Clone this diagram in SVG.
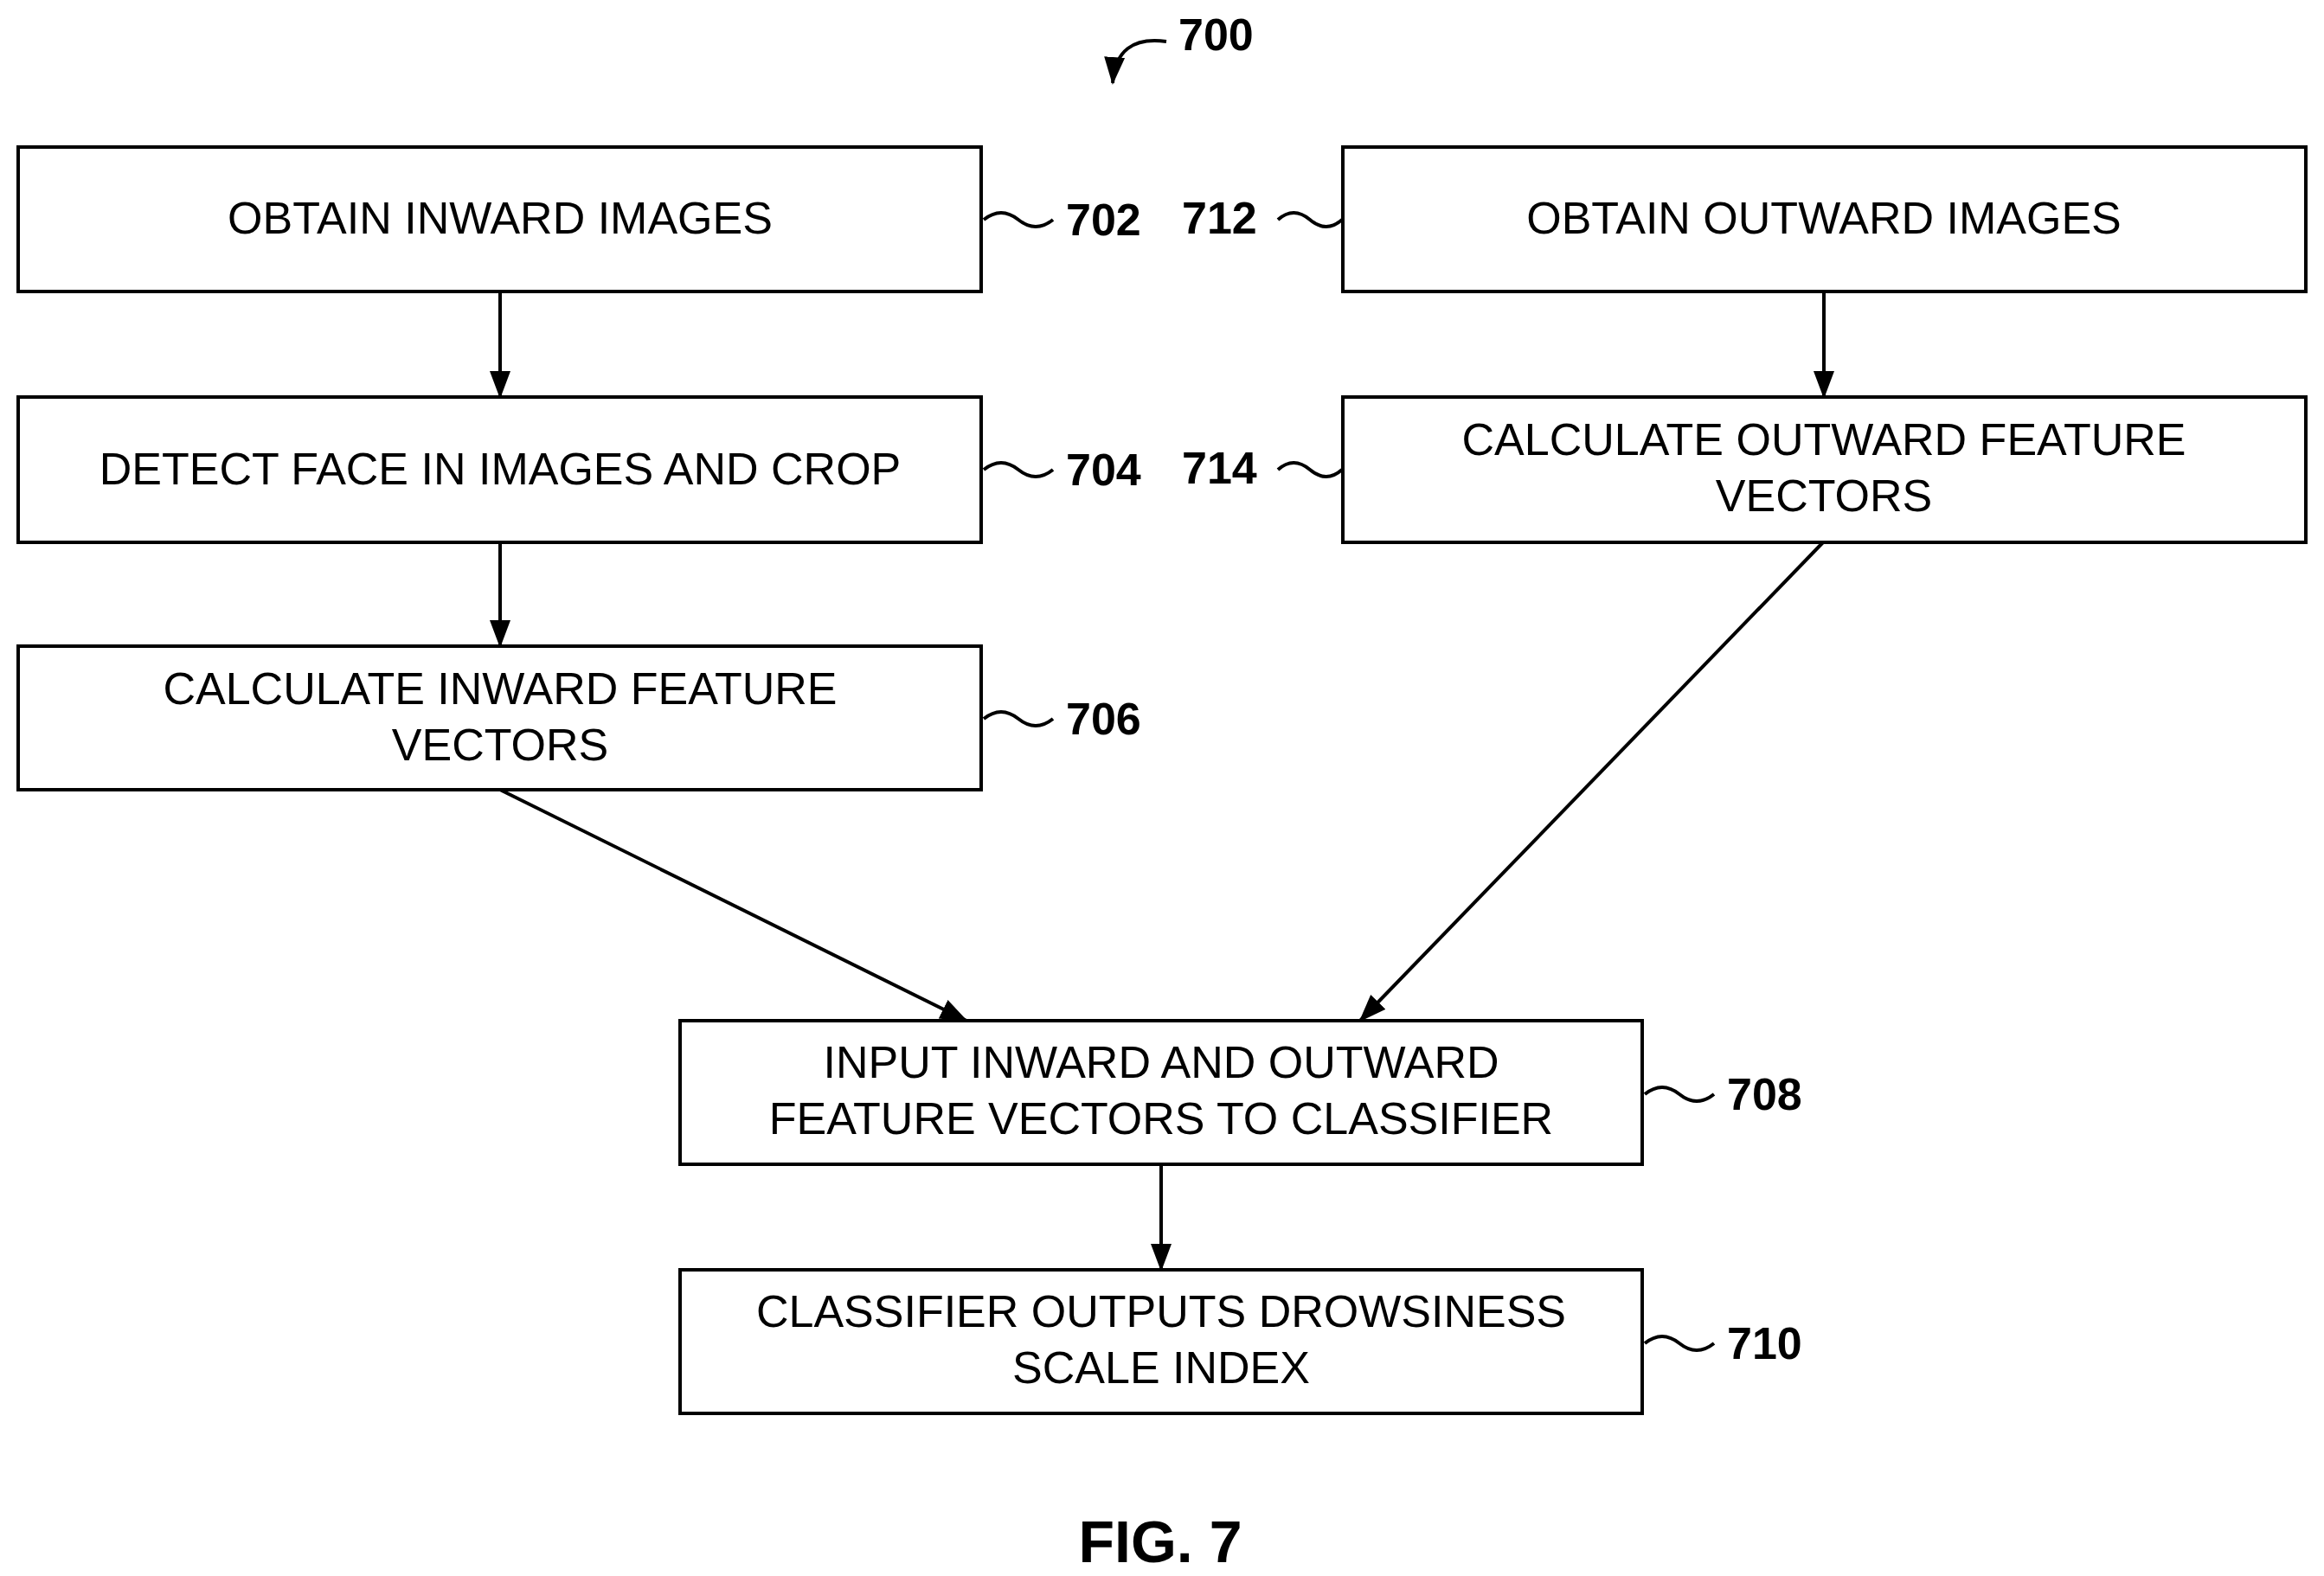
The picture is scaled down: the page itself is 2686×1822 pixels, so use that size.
<svg xmlns="http://www.w3.org/2000/svg" width="2686" height="1822" viewBox="0 0 2686 1822">
<defs>
<style>
.b{fill:#fff;stroke:#000;stroke-width:4}
.t{font-family:"Liberation Sans",Arial,sans-serif;font-size:52px;text-anchor:middle;fill:#000}
.n{font-family:"Liberation Sans",Arial,sans-serif;font-size:52px;font-weight:bold;fill:#000}
.c{fill:none;stroke:#000;stroke-width:4}
</style>
<marker id="a" viewBox="0 0 10 10" refX="10" refY="5" markerWidth="7" markerHeight="7" markerUnits="userSpaceOnUse" orient="auto" style="overflow:visible"><path d="M0,0 L10,5 L0,10 z" transform="scale(3.2)" fill="#000"/></marker>
<marker id="h" viewBox="0 0 32 32" refX="30" refY="16" markerWidth="32" markerHeight="32" markerUnits="userSpaceOnUse" orient="auto"><path d="M0,4 L32,16 L0,28 z" fill="#000"/></marker>
</defs>
<rect width="2686" height="1822" fill="#fff"/>
<g id="label700"><text class="n" x="1362" y="58">700</text><path class="c" d="M1348,48 Q1290,40 1286,96" marker-end="url(#h)"/></g>
<g id="n702"><rect class="b" x="21" y="170" width="1113" height="167"/><text class="t" x="578" y="270">OBTAIN INWARD IMAGES</text><path class="c" d="M1137,254 q20,-16 40,0 t40,0"/><text class="n" x="1232" y="272">702</text></g>
<g id="n704"><rect class="b" x="21" y="459" width="1113" height="168"/><text class="t" x="578" y="560">DETECT FACE IN IMAGES AND CROP</text><path class="c" d="M1137,543 q20,-16 40,0 t40,0"/><text class="n" x="1232" y="561">704</text></g>
<g id="n706"><rect class="b" x="21" y="747" width="1113" height="166"/><text class="t" x="578" y="814">CALCULATE INWARD FEATURE</text><text class="t" x="578" y="879">VECTORS</text><path class="c" d="M1137,831 q20,-16 40,0 t40,0"/><text class="n" x="1232" y="849">706</text></g>
<g id="n712"><rect class="b" x="1552" y="170" width="1113" height="167"/><text class="t" x="2108" y="270">OBTAIN OUTWARD IMAGES</text><path class="c" d="M1477,254 q18,-16 37,0 t37,0"/><text class="n" x="1366" y="270">712</text></g>
<g id="n714"><rect class="b" x="1552" y="459" width="1113" height="168"/><text class="t" x="2108" y="526">CALCULATE OUTWARD FEATURE</text><text class="t" x="2108" y="591">VECTORS</text><path class="c" d="M1477,543 q18,-16 37,0 t37,0"/><text class="n" x="1366" y="559">714</text></g>
<g id="n708"><rect class="b" x="786" y="1180" width="1112" height="166"/><text class="t" x="1342" y="1246">INPUT INWARD AND OUTWARD</text><text class="t" x="1342" y="1311">FEATURE VECTORS TO CLASSIFIER</text><path class="c" d="M1901,1265 q20,-16 40,0 t40,0"/><text class="n" x="1996" y="1283">708</text></g>
<g id="n710"><rect class="b" x="786" y="1468" width="1112" height="166"/><text class="t" x="1342" y="1534">CLASSIFIER OUTPUTS DROWSINESS</text><text class="t" x="1342" y="1599">SCALE INDEX</text><path class="c" d="M1901,1553 q20,-16 40,0 t40,0"/><text class="n" x="1996" y="1571">710</text></g>
<g id="connectors">
<line class="c" x1="578" y1="337" x2="578" y2="459" marker-end="url(#h)"/>
<line class="c" x1="578" y1="627" x2="578" y2="747" marker-end="url(#h)"/>
<line class="c" x1="2108" y1="337" x2="2108" y2="459" marker-end="url(#h)"/>
<line class="c" x1="578" y1="913" x2="1117" y2="1180" marker-end="url(#h)"/>
<line class="c" x1="2107" y1="627" x2="1572" y2="1180" marker-end="url(#h)"/>
<line class="c" x1="1342" y1="1346" x2="1342" y2="1468" marker-end="url(#h)"/>
</g>
<text class="n" x="1341" y="1806" text-anchor="middle" style="font-size:68px">FIG. 7</text>
</svg>
